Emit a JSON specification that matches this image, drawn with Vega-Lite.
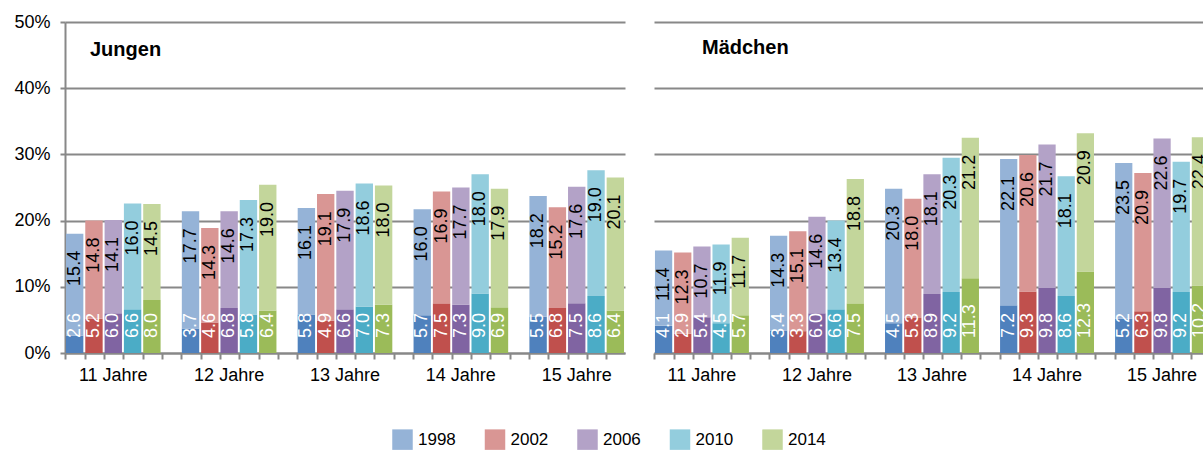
{
  "$schema": "https://vega.github.io/schema/vega-lite/v6.json",
  "padding": {"left": 13, "top": 13, "right": 0, "bottom": 0},
  "config": {
    "font": "Liberation Sans",
    "view": {"stroke": null},
    "axis": {"labelFont": "Liberation Sans", "labelColor": "#000000", "titleFont": "Liberation Sans"},
    "legend": {"labelFont": "Liberation Sans", "labelColor": "#000000"}
  },
  "data": {"values": [
    {"panel":"Jungen","slot":"11-1998","part":"unten","serie":"1998 unten","value":2.6},
    {"panel":"Jungen","slot":"11-1998","part":"oben","serie":"1998 oben","value":15.4},
    {"panel":"Jungen","slot":"11-2002","part":"unten","serie":"2002 unten","value":5.2},
    {"panel":"Jungen","slot":"11-2002","part":"oben","serie":"2002 oben","value":14.8},
    {"panel":"Jungen","slot":"11-2006","part":"unten","serie":"2006 unten","value":6.0},
    {"panel":"Jungen","slot":"11-2006","part":"oben","serie":"2006 oben","value":14.1},
    {"panel":"Jungen","slot":"11-2010","part":"unten","serie":"2010 unten","value":6.6},
    {"panel":"Jungen","slot":"11-2010","part":"oben","serie":"2010 oben","value":16.0},
    {"panel":"Jungen","slot":"11-2014","part":"unten","serie":"2014 unten","value":8.0},
    {"panel":"Jungen","slot":"11-2014","part":"oben","serie":"2014 oben","value":14.5},
    {"panel":"Jungen","slot":"12-1998","part":"unten","serie":"1998 unten","value":3.7},
    {"panel":"Jungen","slot":"12-1998","part":"oben","serie":"1998 oben","value":17.7},
    {"panel":"Jungen","slot":"12-2002","part":"unten","serie":"2002 unten","value":4.6},
    {"panel":"Jungen","slot":"12-2002","part":"oben","serie":"2002 oben","value":14.3},
    {"panel":"Jungen","slot":"12-2006","part":"unten","serie":"2006 unten","value":6.8},
    {"panel":"Jungen","slot":"12-2006","part":"oben","serie":"2006 oben","value":14.6},
    {"panel":"Jungen","slot":"12-2010","part":"unten","serie":"2010 unten","value":5.8},
    {"panel":"Jungen","slot":"12-2010","part":"oben","serie":"2010 oben","value":17.3},
    {"panel":"Jungen","slot":"12-2014","part":"unten","serie":"2014 unten","value":6.4},
    {"panel":"Jungen","slot":"12-2014","part":"oben","serie":"2014 oben","value":19.0},
    {"panel":"Jungen","slot":"13-1998","part":"unten","serie":"1998 unten","value":5.8},
    {"panel":"Jungen","slot":"13-1998","part":"oben","serie":"1998 oben","value":16.1},
    {"panel":"Jungen","slot":"13-2002","part":"unten","serie":"2002 unten","value":4.9},
    {"panel":"Jungen","slot":"13-2002","part":"oben","serie":"2002 oben","value":19.1},
    {"panel":"Jungen","slot":"13-2006","part":"unten","serie":"2006 unten","value":6.6},
    {"panel":"Jungen","slot":"13-2006","part":"oben","serie":"2006 oben","value":17.9},
    {"panel":"Jungen","slot":"13-2010","part":"unten","serie":"2010 unten","value":7.0},
    {"panel":"Jungen","slot":"13-2010","part":"oben","serie":"2010 oben","value":18.6},
    {"panel":"Jungen","slot":"13-2014","part":"unten","serie":"2014 unten","value":7.3},
    {"panel":"Jungen","slot":"13-2014","part":"oben","serie":"2014 oben","value":18.0},
    {"panel":"Jungen","slot":"14-1998","part":"unten","serie":"1998 unten","value":5.7},
    {"panel":"Jungen","slot":"14-1998","part":"oben","serie":"1998 oben","value":16.0},
    {"panel":"Jungen","slot":"14-2002","part":"unten","serie":"2002 unten","value":7.5},
    {"panel":"Jungen","slot":"14-2002","part":"oben","serie":"2002 oben","value":16.9},
    {"panel":"Jungen","slot":"14-2006","part":"unten","serie":"2006 unten","value":7.3},
    {"panel":"Jungen","slot":"14-2006","part":"oben","serie":"2006 oben","value":17.7},
    {"panel":"Jungen","slot":"14-2010","part":"unten","serie":"2010 unten","value":9.0},
    {"panel":"Jungen","slot":"14-2010","part":"oben","serie":"2010 oben","value":18.0},
    {"panel":"Jungen","slot":"14-2014","part":"unten","serie":"2014 unten","value":6.9},
    {"panel":"Jungen","slot":"14-2014","part":"oben","serie":"2014 oben","value":17.9},
    {"panel":"Jungen","slot":"15-1998","part":"unten","serie":"1998 unten","value":5.5},
    {"panel":"Jungen","slot":"15-1998","part":"oben","serie":"1998 oben","value":18.2},
    {"panel":"Jungen","slot":"15-2002","part":"unten","serie":"2002 unten","value":6.8},
    {"panel":"Jungen","slot":"15-2002","part":"oben","serie":"2002 oben","value":15.2},
    {"panel":"Jungen","slot":"15-2006","part":"unten","serie":"2006 unten","value":7.5},
    {"panel":"Jungen","slot":"15-2006","part":"oben","serie":"2006 oben","value":17.6},
    {"panel":"Jungen","slot":"15-2010","part":"unten","serie":"2010 unten","value":8.6},
    {"panel":"Jungen","slot":"15-2010","part":"oben","serie":"2010 oben","value":19.0},
    {"panel":"Jungen","slot":"15-2014","part":"unten","serie":"2014 unten","value":6.4},
    {"panel":"Jungen","slot":"15-2014","part":"oben","serie":"2014 oben","value":20.1},
    {"panel":"Mädchen","slot":"11-1998","part":"unten","serie":"1998 unten","value":4.1},
    {"panel":"Mädchen","slot":"11-1998","part":"oben","serie":"1998 oben","value":11.4},
    {"panel":"Mädchen","slot":"11-2002","part":"unten","serie":"2002 unten","value":2.9},
    {"panel":"Mädchen","slot":"11-2002","part":"oben","serie":"2002 oben","value":12.3},
    {"panel":"Mädchen","slot":"11-2006","part":"unten","serie":"2006 unten","value":5.4},
    {"panel":"Mädchen","slot":"11-2006","part":"oben","serie":"2006 oben","value":10.7},
    {"panel":"Mädchen","slot":"11-2010","part":"unten","serie":"2010 unten","value":4.5},
    {"panel":"Mädchen","slot":"11-2010","part":"oben","serie":"2010 oben","value":11.9},
    {"panel":"Mädchen","slot":"11-2014","part":"unten","serie":"2014 unten","value":5.7},
    {"panel":"Mädchen","slot":"11-2014","part":"oben","serie":"2014 oben","value":11.7},
    {"panel":"Mädchen","slot":"12-1998","part":"unten","serie":"1998 unten","value":3.4},
    {"panel":"Mädchen","slot":"12-1998","part":"oben","serie":"1998 oben","value":14.3},
    {"panel":"Mädchen","slot":"12-2002","part":"unten","serie":"2002 unten","value":3.3},
    {"panel":"Mädchen","slot":"12-2002","part":"oben","serie":"2002 oben","value":15.1},
    {"panel":"Mädchen","slot":"12-2006","part":"unten","serie":"2006 unten","value":6.0},
    {"panel":"Mädchen","slot":"12-2006","part":"oben","serie":"2006 oben","value":14.6},
    {"panel":"Mädchen","slot":"12-2010","part":"unten","serie":"2010 unten","value":6.6},
    {"panel":"Mädchen","slot":"12-2010","part":"oben","serie":"2010 oben","value":13.4},
    {"panel":"Mädchen","slot":"12-2014","part":"unten","serie":"2014 unten","value":7.5},
    {"panel":"Mädchen","slot":"12-2014","part":"oben","serie":"2014 oben","value":18.8},
    {"panel":"Mädchen","slot":"13-1998","part":"unten","serie":"1998 unten","value":4.5},
    {"panel":"Mädchen","slot":"13-1998","part":"oben","serie":"1998 oben","value":20.3},
    {"panel":"Mädchen","slot":"13-2002","part":"unten","serie":"2002 unten","value":5.3},
    {"panel":"Mädchen","slot":"13-2002","part":"oben","serie":"2002 oben","value":18.0},
    {"panel":"Mädchen","slot":"13-2006","part":"unten","serie":"2006 unten","value":8.9},
    {"panel":"Mädchen","slot":"13-2006","part":"oben","serie":"2006 oben","value":18.1},
    {"panel":"Mädchen","slot":"13-2010","part":"unten","serie":"2010 unten","value":9.2},
    {"panel":"Mädchen","slot":"13-2010","part":"oben","serie":"2010 oben","value":20.3},
    {"panel":"Mädchen","slot":"13-2014","part":"unten","serie":"2014 unten","value":11.3},
    {"panel":"Mädchen","slot":"13-2014","part":"oben","serie":"2014 oben","value":21.2},
    {"panel":"Mädchen","slot":"14-1998","part":"unten","serie":"1998 unten","value":7.2},
    {"panel":"Mädchen","slot":"14-1998","part":"oben","serie":"1998 oben","value":22.1},
    {"panel":"Mädchen","slot":"14-2002","part":"unten","serie":"2002 unten","value":9.3},
    {"panel":"Mädchen","slot":"14-2002","part":"oben","serie":"2002 oben","value":20.6},
    {"panel":"Mädchen","slot":"14-2006","part":"unten","serie":"2006 unten","value":9.8},
    {"panel":"Mädchen","slot":"14-2006","part":"oben","serie":"2006 oben","value":21.7},
    {"panel":"Mädchen","slot":"14-2010","part":"unten","serie":"2010 unten","value":8.6},
    {"panel":"Mädchen","slot":"14-2010","part":"oben","serie":"2010 oben","value":18.1},
    {"panel":"Mädchen","slot":"14-2014","part":"unten","serie":"2014 unten","value":12.3},
    {"panel":"Mädchen","slot":"14-2014","part":"oben","serie":"2014 oben","value":20.9},
    {"panel":"Mädchen","slot":"15-1998","part":"unten","serie":"1998 unten","value":5.2},
    {"panel":"Mädchen","slot":"15-1998","part":"oben","serie":"1998 oben","value":23.5},
    {"panel":"Mädchen","slot":"15-2002","part":"unten","serie":"2002 unten","value":6.3},
    {"panel":"Mädchen","slot":"15-2002","part":"oben","serie":"2002 oben","value":20.9},
    {"panel":"Mädchen","slot":"15-2006","part":"unten","serie":"2006 unten","value":9.8},
    {"panel":"Mädchen","slot":"15-2006","part":"oben","serie":"2006 oben","value":22.6},
    {"panel":"Mädchen","slot":"15-2010","part":"unten","serie":"2010 unten","value":9.2},
    {"panel":"Mädchen","slot":"15-2010","part":"oben","serie":"2010 oben","value":19.7},
    {"panel":"Mädchen","slot":"15-2014","part":"unten","serie":"2014 unten","value":10.2},
    {"panel":"Mädchen","slot":"15-2014","part":"oben","serie":"2014 oben","value":22.4}
  ]},
  "spacing": 28,
  "resolve": {"scale": {"x": "independent", "y": "independent", "color": "shared"}},
  "hconcat": [
    {
      "width": 560,
      "height": 331,
      "title": {"text": "Jungen", "anchor": "start", "frame": "group", "orient": "top", "offset": 0, "dx": 25, "dy": 63, "baseline": "alphabetic", "fontSize": 20, "fontWeight": "bold", "font": "Liberation Sans", "color": "#000000"},
      "transform": [
        {"filter": "datum.panel == 'Jungen'"},
        {"stack": "value", "groupby": ["slot"], "sort": [{"field": "part", "order": "descending"}], "as": ["v0", "v1"]}
      ],
      "encoding": {
        "x": {"field": "slot", "type": "nominal",
          "scale": {"domain": ["11-1998","11-2002","11-2006","11-2010","11-2014","11-x","12-1998","12-2002","12-2006","12-2010","12-2014","12-x","13-1998","13-2002","13-2006","13-2010","13-2014","13-x","14-1998","14-2002","14-2006","14-2010","14-2014","14-x","15-1998","15-2002","15-2006","15-2010","15-2014"], "paddingInner": 0.1, "paddingOuter": 0.05},
          "axis": {"title": null, "bandPosition": 0, "labelExpr": "slice(datum.value, 3) == '2006' ? slice(datum.value, 0, 2) + ' Jahre' : ''", "labelAngle": 0, "labelFontSize": 18, "labelPadding": 7, "tickSize": 6, "tickColor": "#888888", "tickWidth": 2, "domainColor": "#888888", "domainWidth": 2, "labelOverlap": false, "grid": false}}
      },
      "layer": [
        {
          "mark": {"type": "bar"},
          "encoding": {
            "y": {"field": "v0", "type": "quantitative", "scale": {"domain": [0, 50], "nice": false},
              "axis": {"title": null, "values": [0, 10, 20, 30, 40, 50], "labelExpr": "datum.value + '%'", "labelFontSize": 18, "labelPadding": 10, "tickSize": 5, "tickColor": "#888888", "tickWidth": 2, "domainColor": "#888888", "domainWidth": 2, "grid": true, "gridColor": "#888888", "gridWidth": 2}},
            "y2": {"field": "v1"},
            "color": {"field": "serie", "type": "nominal",
              "scale": {"domain": ["1998 unten","1998 oben","2002 unten","2002 oben","2006 unten","2006 oben","2010 unten","2010 oben","2014 unten","2014 oben"],
                        "range": ["#4F81BD","#95B3D7","#C0504D","#D99694","#8064A2","#B3A2C7","#4BACC6","#93CDDD","#9BBB59","#C3D69B"]},
              "legend": {"orient": "none", "legendX": 327, "legendY": 407, "direction": "horizontal", "title": null, "values": ["1998 oben","2002 oben","2006 oben","2010 oben","2014 oben"], "labelExpr": "slice(datum.label, 0, 4)", "symbolType": "square", "symbolSize": 420, "symbolStrokeWidth": 0, "labelFontSize": 17, "labelOffset": 5, "columnPadding": 28.5, "padding": 0}}
          }
        },
        {
          "transform": [{"filter": "datum.part == 'unten'"}],
          "mark": {"type": "text", "angle": -90, "align": "left", "baseline": "middle", "dx": 15, "color": "#FFFFFF", "fontSize": 18, "font": "Liberation Sans"},
          "encoding": {"y": {"field": "v0", "type": "quantitative"}, "text": {"field": "value", "type": "quantitative", "format": ".1f"}}
        },
        {
          "transform": [{"filter": "datum.part == 'oben'"}],
          "mark": {"type": "text", "angle": -90, "align": "right", "baseline": "middle", "dx": -17, "color": "#000000", "fontSize": 18, "font": "Liberation Sans"},
          "encoding": {"y": {"field": "v1", "type": "quantitative"}, "text": {"field": "value", "type": "quantitative", "format": ".1f"}}
        }
      ]
    },
    {
      "width": 556,
      "height": 331,
      "title": {"text": "Mädchen", "anchor": "start", "frame": "group", "orient": "top", "offset": 0, "dx": 48, "dy": 52, "baseline": "alphabetic", "fontSize": 20, "fontWeight": "bold", "font": "Liberation Sans", "color": "#000000"},
      "transform": [
        {"filter": "datum.panel == 'Mädchen'"},
        {"stack": "value", "groupby": ["slot"], "sort": [{"field": "part", "order": "descending"}], "as": ["v0", "v1"]}
      ],
      "encoding": {
        "x": {"field": "slot", "type": "nominal",
          "scale": {"domain": ["11-1998","11-2002","11-2006","11-2010","11-2014","11-x","12-1998","12-2002","12-2006","12-2010","12-2014","12-x","13-1998","13-2002","13-2006","13-2010","13-2014","13-x","14-1998","14-2002","14-2006","14-2010","14-2014","14-x","15-1998","15-2002","15-2006","15-2010","15-2014"], "paddingInner": 0.1, "paddingOuter": 0.05},
          "axis": {"title": null, "bandPosition": 0, "labelExpr": "slice(datum.value, 3) == '2006' ? slice(datum.value, 0, 2) + ' Jahre' : ''", "labelAngle": 0, "labelFontSize": 18, "labelPadding": 7, "tickSize": 6, "tickColor": "#888888", "tickWidth": 2, "domainColor": "#888888", "domainWidth": 2, "labelOverlap": false, "grid": false}}
      },
      "layer": [
        {
          "mark": {"type": "bar"},
          "encoding": {
            "y": {"field": "v0", "type": "quantitative", "scale": {"domain": [0, 50], "nice": false},
              "axis": {"title": null, "values": [0, 10, 20, 30, 40, 50], "labels": false, "ticks": false, "domain": false, "grid": true, "gridColor": "#888888", "gridWidth": 2}},
            "y2": {"field": "v1"},
            "color": {"field": "serie", "type": "nominal",
              "scale": {"domain": ["1998 unten","1998 oben","2002 unten","2002 oben","2006 unten","2006 oben","2010 unten","2010 oben","2014 unten","2014 oben"],
                        "range": ["#4F81BD","#95B3D7","#C0504D","#D99694","#8064A2","#B3A2C7","#4BACC6","#93CDDD","#9BBB59","#C3D69B"]}}
          }
        },
        {
          "transform": [{"filter": "datum.part == 'unten'"}],
          "mark": {"type": "text", "angle": -90, "align": "left", "baseline": "middle", "dx": 15, "color": "#FFFFFF", "fontSize": 18, "font": "Liberation Sans"},
          "encoding": {"y": {"field": "v0", "type": "quantitative"}, "text": {"field": "value", "type": "quantitative", "format": ".1f"}}
        },
        {
          "transform": [{"filter": "datum.part == 'oben'"}],
          "mark": {"type": "text", "angle": -90, "align": "right", "baseline": "middle", "dx": -17, "color": "#000000", "fontSize": 18, "font": "Liberation Sans"},
          "encoding": {"y": {"field": "v1", "type": "quantitative"}, "text": {"field": "value", "type": "quantitative", "format": ".1f"}}
        }
      ]
    }
  ]
}
